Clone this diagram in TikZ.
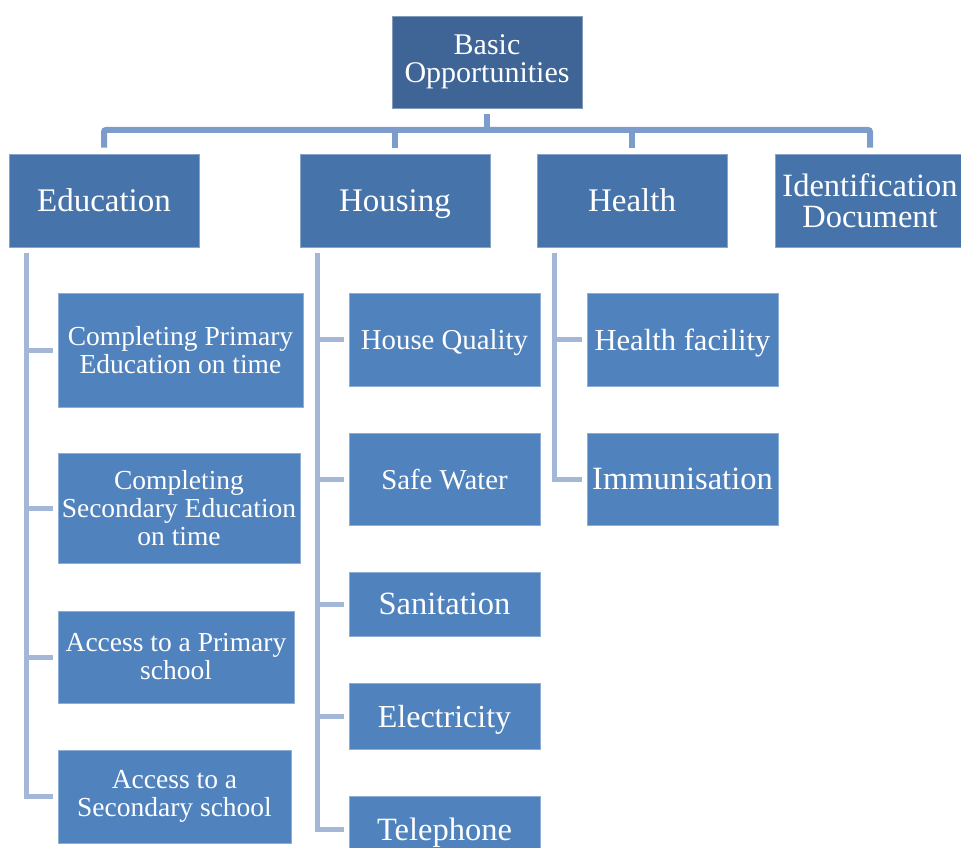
\documentclass[tikz,border=0pt]{standalone}
\usepackage{fontspec}
\setmainfont{Liberation Serif}
\definecolor{rootblue}{RGB}{63,101,150}
\definecolor{catblue}{RGB}{70,116,170}
\definecolor{itemblue}{RGB}{80,130,190}
\definecolor{trunk}{RGB}{124,156,204}
\definecolor{branch}{RGB}{165,183,216}
\tikzset{
  box/.style={rectangle, inner sep=0pt, text=white,
    draw=white!35!#1, line width=0.6pt, fill=#1},
  % labels set on several lines
  multi/.style={align=center},
  % single-line labels: descenders do not move the line
  oneline/.style={text depth=0pt},
  rootbox/.style={box=rootblue, multi, minimum width=190pt, minimum height=92pt,
    font=\fontsize{30}{28}\selectfont},
  catbox/.style={box=catblue, minimum width=190pt, minimum height=93pt,
    font=\fontsize{33}{31}\selectfont},
  itembox/.style={box=itemblue, font=\fontsize{28}{28}\selectfont},
  trunkline/.style={draw=trunk, line width=6pt},
  branchline/.style={draw=branch, line width=5pt},
}
\begin{document}
\begin{tikzpicture}[x=1pt, y=-1pt]
\useasboundingbox (0,0) rectangle (961,848);
\clip (0,0) rectangle (961,848);

% top of the hierarchy
\node[rootbox] (root) at (487,62) {Basic\\Opportunities};

% categories
\node[catbox, oneline] (edu) at (104,200.5) {Education};
\node[catbox, oneline] (hou) at (395,200.5) {Housing};
\node[catbox, oneline] (hea) at (632,200.5) {Health};
\node[catbox, multi, font=\fontsize{32.5}{31}\selectfont] (idd) at (870,200.5) {Identification\\Document};

% education items
\node[itembox, multi, minimum width=245pt, minimum height=114pt, font=\fontsize{27.5}{28}\selectfont] (e1) at (180.5,350) {Completing Primary\\Education on time};
\node[itembox, multi, minimum width=242pt, minimum height=110pt, font=\fontsize{27.5}{28}\selectfont] (e2) at (179,508) {Completing\\Secondary Education\\on time};
\node[itembox, multi, minimum width=236pt, minimum height=92pt, font=\fontsize{27.5}{28}\selectfont] (e3) at (176,657) {Access to a Primary\\school};
\node[itembox, multi, minimum width=233pt, minimum height=93pt, font=\fontsize{27.5}{28}\selectfont] (e4) at (174.5,796.5) {Access to a\\Secondary school};

% housing items
\node[itembox, oneline, minimum width=191pt, minimum height=93pt, font=\fontsize{28.8}{28}\selectfont] (h1) at (444.5,339.5) {House Quality};
\node[itembox, oneline, minimum width=191pt, minimum height=92pt, font=\fontsize{28.8}{28}\selectfont] (h2) at (444.5,479) {Safe Water};
\node[itembox, oneline, minimum width=191pt, minimum height=64pt, font=\fontsize{32.5}{28}\selectfont] (h3) at (444.5,604) {Sanitation};
\node[itembox, oneline, minimum width=191pt, minimum height=66pt, font=\fontsize{32}{28}\selectfont] (h4) at (444.5,716) {Electricity};
\node[itembox, oneline, minimum width=191pt, minimum height=66pt, font=\fontsize{32.5}{28}\selectfont] (h5) at (444.5,829) {Telephone};

% health items
\node[itembox, oneline, minimum width=191pt, minimum height=93pt, font=\fontsize{30.6}{28}\selectfont] (k1) at (682.5,339.5) {Health facility};
\node[itembox, oneline, minimum width=191pt, minimum height=92pt, font=\fontsize{32.5}{28}\selectfont] (k2) at (682.5,479) {Immunisation};

% upper connectors
\coordinate (bar) at (0,130);
\draw[trunkline] ([yshift=-6pt]root.south) -- (root.south |- bar);
\draw[trunkline, rounded corners=2pt] ([yshift=6pt]edu.north) -- (edu.north |- bar)
  -- (idd.north |- bar) -- ([yshift=6pt]idd.north);
\draw[trunkline] (hou.north |- bar) -- ([yshift=6pt]hou.north);
\draw[trunkline] (hea.north |- bar) -- ([yshift=6pt]hea.north);

% spines below the categories
\coordinate (espine) at ([shift={(-78pt,-6pt)}]edu.south);
\coordinate (hspine) at ([shift={(-78pt,-6pt)}]hou.south);
\coordinate (kspine) at ([shift={(-78pt,-6pt)}]hea.south);

\draw[branchline] (espine) |- ([xshift=-5pt]e4.west);
\foreach \n in {e1,e2,e3}
  \draw[branchline] (espine |- \n.west) -- ([xshift=-5pt]\n.west);

\draw[branchline] (hspine) |- ([xshift=-5pt]h5.west);
\foreach \n in {h1,h2,h3,h4}
  \draw[branchline] (hspine |- \n.west) -- ([xshift=-5pt]\n.west);

\draw[branchline] (kspine) |- ([xshift=-5pt]k2.west);
\draw[branchline] (kspine |- k1.west) -- ([xshift=-5pt]k1.west);
\end{tikzpicture}
\end{document}
